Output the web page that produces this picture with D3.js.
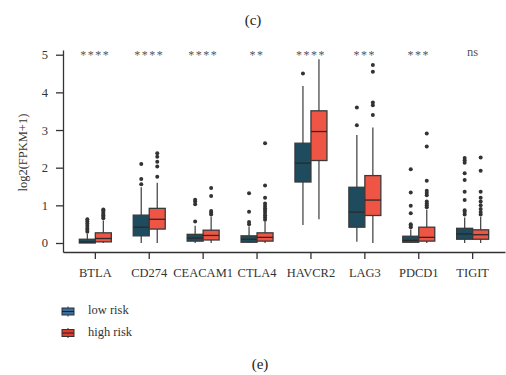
<!DOCTYPE html>
<html>
<head>
<meta charset="UTF-8">
<script src="https://d3js.org/d3.v7.min.js"></script>
<style>
  body { margin: 0; background: #fff; }
  svg text { font-family: "Liberation Serif", "DejaVu Serif", serif; fill: #333; }
  .axis path, .axis line { stroke: #333; stroke-width: 1.3px; }
</style>
</head>
<body>
<div id="chart"></div>
<script>
const genes = ["BTLA", "CD274", "CEACAM1", "CTLA4", "HAVCR2", "LAG3", "PDCD1", "TIGIT"];
const signif = ["****", "****", "****", "**", "****", "***", "***", "ns"];
const groups = ["low risk", "high risk"];
const colors = ["#1e4b5d", "#ef5545"];
const legendColors = ["#3a6c9c", "#df3b2e"];

// [whiskerLow, q1, median, q3, whiskerHigh] per gene
const lowStats = [
  [0, 0, 0.03, 0.1, 0.24],
  [0, 0.19, 0.42, 0.74, 1.48],
  [0, 0.05, 0.13, 0.23, 0.46],
  [0, 0.02, 0.1, 0.19, 0.44],
  [0.48, 1.62, 2.12, 2.65, 4.17],
  [0.03, 0.42, 0.82, 1.48, 2.87],
  [0, 0.02, 0.07, 0.18, 0.36],
  [0, 0.1, 0.24, 0.39, 0.68]
];
const highStats = [
  [0, 0.03, 0.12, 0.27, 0.6],
  [0, 0.37, 0.63, 0.92, 1.6],
  [0, 0.08, 0.2, 0.34, 0.7],
  [0, 0.05, 0.15, 0.27, 0.57],
  [0.63, 2.19, 2.96, 3.51, 4.88],
  [0, 0.73, 1.14, 1.79, 3.07],
  [0, 0.05, 0.15, 0.42, 0.88],
  [0, 0.1, 0.22, 0.35, 0.7]
];
const lowOutliers = [
  [0.3, 0.35, 0.4, 0.46, 0.52, 0.58, 0.63],
  [1.56, 1.7, 2.1],
  [0.57, 1.03, 1.1, 1.15],
  [0.5, 0.56, 0.83, 1.32],
  [4.5],
  [3.13, 3.6],
  [0.42, 0.46, 0.5, 0.79, 0.99, 1.34, 1.96],
  [0.76, 0.82, 0.87, 1.14, 1.36, 1.67, 1.85, 2.13, 2.2, 2.26]
];
const highOutliers = [
  [0.66, 0.7, 0.74, 0.78, 0.82, 0.86, 0.89],
  [1.76, 2.03, 2.16, 2.29, 2.38],
  [0.76, 0.8, 0.85, 1.25, 1.46],
  [0.62, 0.68, 0.74, 0.8, 0.86, 0.92, 0.98, 1.05, 1.2, 1.53, 2.65],
  [],
  [3.4, 3.66, 3.73, 4.55, 4.73],
  [0.95, 1.0, 1.05, 1.1, 1.27, 1.33, 1.39, 1.65, 2.56, 2.91],
  [0.76, 0.82, 0.9, 1.0, 1.1, 1.2, 1.36, 1.92, 2.27]
];
const yTicks = [0, 1, 2, 3, 4, 5];

const width = 506, height = 375;
const svg = d3.select("#chart").append("svg")
  .attr("width", width).attr("height", height);

const x = d3.scaleBand().domain(genes).range([63, 505]).paddingOuter(0.1);
const xSub = d3.scaleBand().domain(groups).range([0, 32]);
const y = d3.scaleLinear().domain([-0.239, 5.125]).range([252, 50]);

// axes
const yAxis = svg.append("g").attr("class", "axis")
  .attr("transform", "translate(63,0)")
  .call(d3.axisLeft(y).tickValues(yTicks).tickFormat(d3.format("d"))
    .tickSize(7).tickSizeOuter(0).tickPadding(8));
yAxis.selectAll("text").style("font-size", "12.5px").style("font-family", "Liberation Serif").style("fill", "#333");

const xAxis = svg.append("g").attr("class", "axis")
  .attr("transform", "translate(0,252)")
  .call(d3.axisBottom(x).tickSize(7).tickSizeOuter(0).tickPadding(9));
xAxis.selectAll("text").style("font-size", "12.5px").style("font-family", "Liberation Serif").style("fill", "#333");

svg.append("text")
  .attr("transform", `translate(24,${y(2.4)}) rotate(-90)`)
  .attr("text-anchor", "middle").attr("dominant-baseline", "middle")
  .style("font-size", "12.5px")
  .text("log2(FPKM+1)");

// boxes
const series = [
  { name: groups[0], stats: lowStats, outliers: lowOutliers, color: colors[0] },
  { name: groups[1], stats: highStats, outliers: highOutliers, color: colors[1] }
];

series.forEach(s => {
  const g = svg.append("g");
  genes.forEach((gene, i) => {
    const [wl, q1, med, q3, wh] = s.stats[i];
    const x0 = x(gene) + x.bandwidth() / 2 - 16 + xSub(s.name);
    const bw = xSub.bandwidth();
    const cx = x0 + bw / 2;
    g.append("line").attr("x1", cx).attr("x2", cx).attr("y1", y(wl)).attr("y2", y(wh))
      .attr("stroke", "#4a4a4a").attr("stroke-width", 1.3);
    g.append("rect").attr("x", x0).attr("width", bw)
      .attr("y", y(q3)).attr("height", Math.max(y(q1) - y(q3), 1.5))
      .attr("fill", s.color).attr("stroke", "#3a3a3a").attr("stroke-width", 1.3);
    g.append("line").attr("x1", x0).attr("x2", x0 + bw).attr("y1", y(med)).attr("y2", y(med))
      .attr("stroke", "#2a2a2a").attr("stroke-width", 1.3);
    g.selectAll(null).data(s.outliers[i]).enter().append("circle")
      .attr("cx", cx).attr("cy", d => y(d)).attr("r", 2)
      .attr("fill", "#333");
  });
});

// significance labels
svg.append("g").selectAll("text").data(genes).enter().append("text")
  .attr("x", d => x(d) + x.bandwidth() / 2)
  .attr("y", (d, i) => signif[i] === "ns" ? 56 : 59)
  .attr("text-anchor", "middle")
  .style("font-size", (d, i) => signif[i] === "ns" ? "12.5px" : "12px")
  .style("fill", "#555")
  .style("letter-spacing", (d, i) => signif[i] === "ns" ? "0px" : "1.5px")
  .text((d, i) => signif[i]);

// legend
const leg = svg.append("g");
groups.forEach((name, i) => {
  const ly = 311.5 + i * 21.5;
  leg.append("line").attr("x1", 68).attr("x2", 68).attr("y1", ly - 5).attr("y2", ly + 5)
    .attr("stroke", "#333").attr("stroke-width", 1);
  leg.append("rect").attr("x", 62).attr("y", ly - 3.5).attr("width", 12).attr("height", 7)
    .attr("fill", legendColors[i]).attr("stroke", "#333").attr("stroke-width", 1);
  leg.append("line").attr("x1", 62).attr("x2", 74).attr("y1", ly).attr("y2", ly)
    .attr("stroke", "#222").attr("stroke-width", 1);
  leg.append("text").attr("x", 88).attr("y", ly).attr("dominant-baseline", "middle")
    .style("font-size", "12.5px").text(name);
});

// panel labels
svg.append("text").attr("x", 253).attr("y", 22).attr("text-anchor", "middle")
  .attr("dominant-baseline", "middle").style("font-size", "15px").style("fill", "#222").text("(c)");
svg.append("text").attr("x", 260).attr("y", 366).attr("text-anchor", "middle")
  .attr("dominant-baseline", "middle").style("font-size", "15px").style("fill", "#222").text("(e)");
</script>
</body>
</html>
